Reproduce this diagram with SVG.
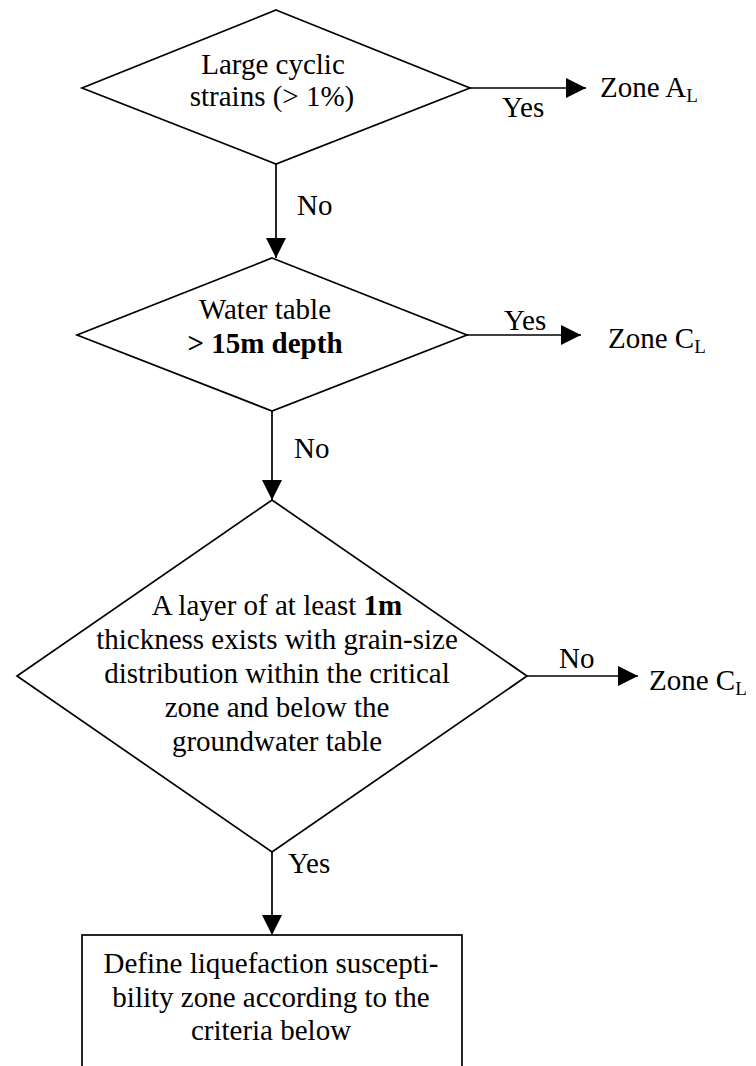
<svg xmlns="http://www.w3.org/2000/svg" width="756" height="1066" viewBox="0 0 756 1066">
<defs>
<style>
text{font-family:"Liberation Serif","Times New Roman",serif;font-size:29px;fill:#000}
.c{text-anchor:middle}
.b{font-weight:bold}
.sub{font-size:19px}
.shape{fill:#fff;stroke:#000;stroke-width:1.7}
.conn{fill:none;stroke:#000;stroke-width:1.7}
</style>
<marker id="arr" viewBox="0 0 20 20" refX="20" refY="10" markerWidth="20" markerHeight="20" markerUnits="userSpaceOnUse" orient="auto">
<path d="M0,0 L20,10 L0,20 z" fill="#000"/>
</marker>
</defs>
<rect width="756" height="1066" fill="#fff"/>
<g id="connectors">
<line class="conn" x1="470" y1="88" x2="586" y2="88" marker-end="url(#arr)"/>
<line class="conn" x1="276" y1="164" x2="276" y2="258" marker-end="url(#arr)"/>
<line class="conn" x1="467" y1="335" x2="581" y2="335" marker-end="url(#arr)"/>
<line class="conn" x1="272" y1="411" x2="272" y2="500" marker-end="url(#arr)"/>
<line class="conn" x1="527" y1="676" x2="638" y2="676" marker-end="url(#arr)"/>
<line class="conn" x1="272" y1="852" x2="272" y2="935" marker-end="url(#arr)"/>
<text x="502" y="117">Yes</text>
<text x="297" y="215">No</text>
<text x="504" y="330">Yes</text>
<text x="294" y="458">No</text>
<text x="559" y="668">No</text>
<text x="288" y="873">Yes</text>
</g>
<g id="d1">
<path class="shape" d="M276,10 L470,88 L276,164 L82,88 Z"/>
<text class="c" x="273" y="74">Large cyclic</text>
<text class="c" x="272" y="106">strains (&gt; 1%)</text>
</g>
<g id="zoneA">
<text x="600" y="97">Zone A<tspan class="sub" dy="5">L</tspan></text>
</g>
<g id="d2">
<path class="shape" d="M272,258 L467,335 L272,411 L77,335 Z"/>
<text class="c" x="265" y="319">Water table</text>
<text class="c b" x="265" y="353">&gt; 15m depth</text>
</g>
<g id="zoneC1">
<text x="608" y="348">Zone C<tspan class="sub" dy="5">L</tspan></text>
</g>
<g id="d3">
<path class="shape" d="M272,500 L527,676 L272,852 L17,676 Z"/>
<text class="c" x="277" y="615">A layer of at least <tspan class="b">1m</tspan></text>
<text class="c" x="277" y="649">thickness exists with grain-size</text>
<text class="c" x="277" y="683">distribution within the critical</text>
<text class="c" x="277" y="717">zone and below the</text>
<text class="c" x="277" y="751">groundwater table</text>
</g>
<g id="zoneC2">
<text x="649" y="690">Zone C<tspan class="sub" dy="5">L</tspan></text>
</g>
<g id="box">
<rect class="shape" x="82" y="935" width="380" height="160"/>
<text class="c" x="271" y="973">Define liquefaction suscepti-</text>
<text class="c" x="271" y="1007">bility zone according to the</text>
<text class="c" x="271" y="1040">criteria below</text>
</g>
</svg>
